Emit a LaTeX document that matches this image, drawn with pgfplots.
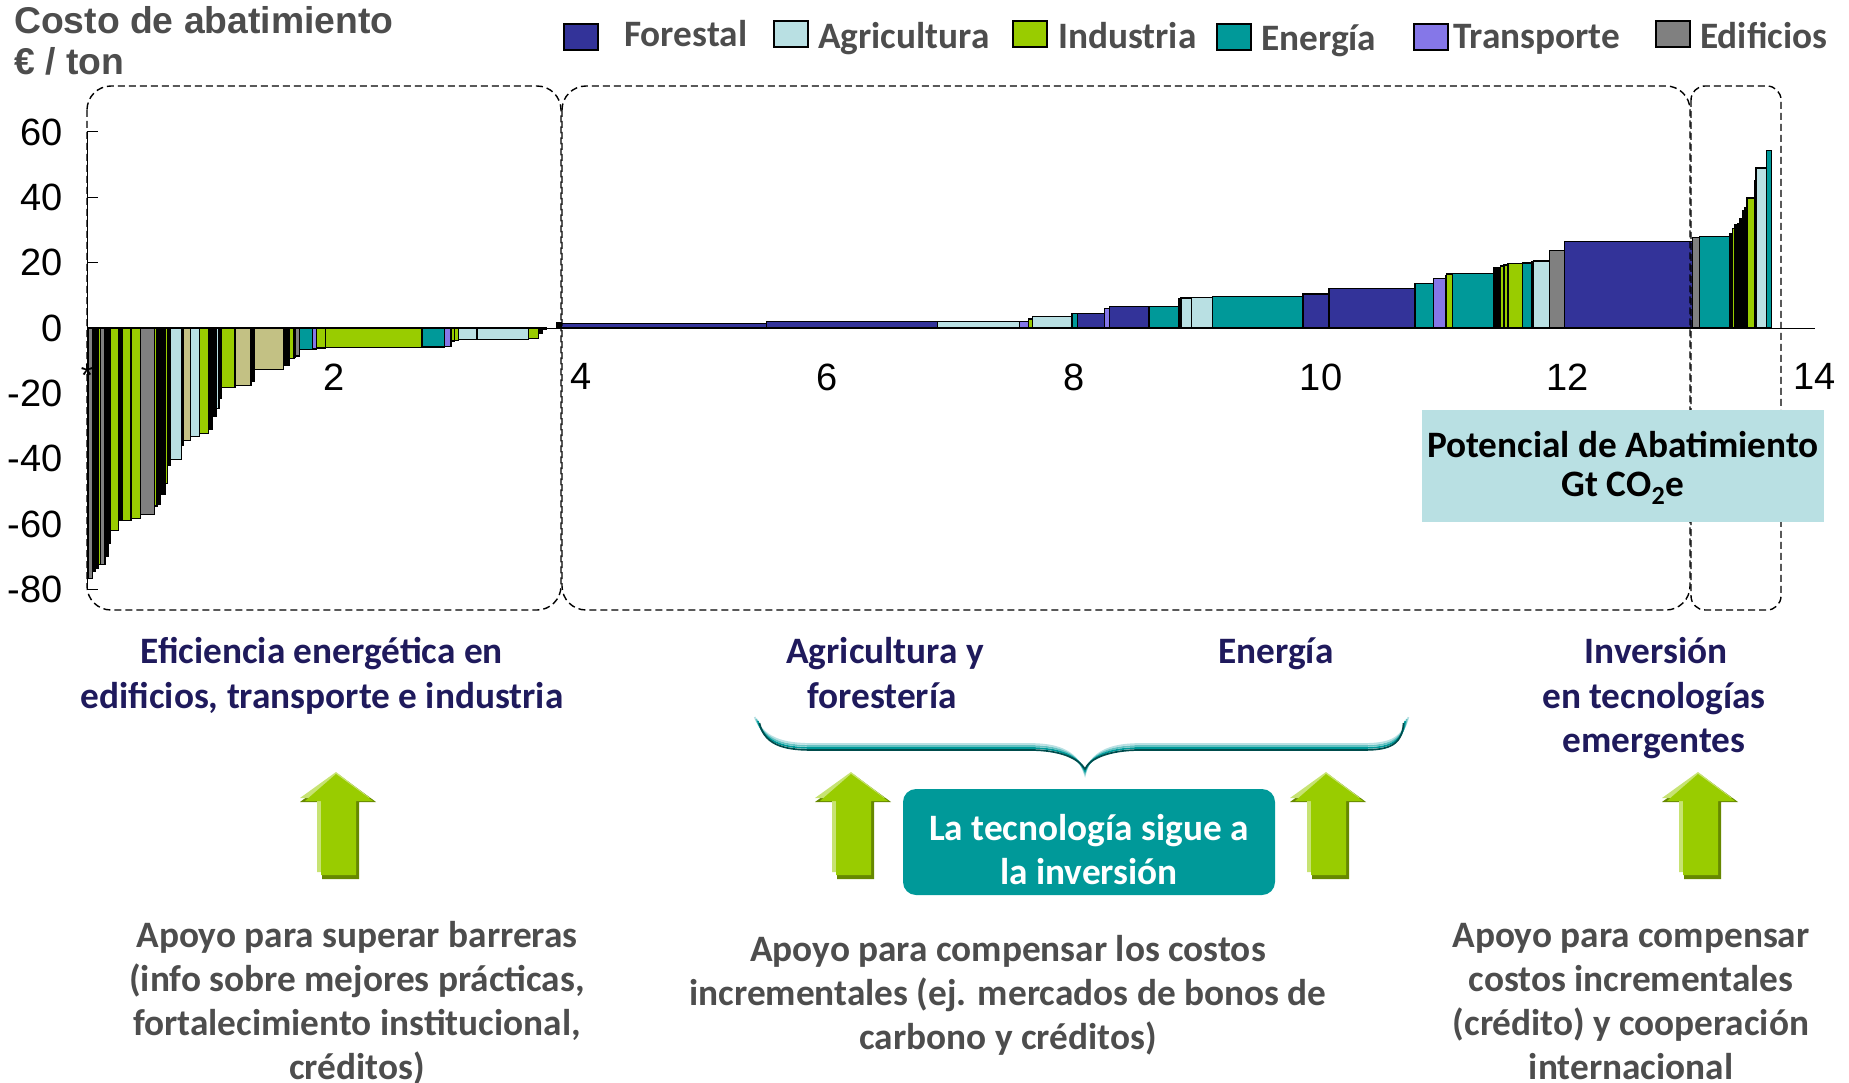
\documentclass[border=0pt]{standalone}
\usepackage{fontspec}
\usepackage{pgfplots}
\pgfplotsset{compat=1.18}
\setmainfont{Carlito}
\newfontfamily\arialf{Liberation Sans}
\definecolor{forest}{HTML}{333399}
\definecolor{agri}{HTML}{B9E0E3}
\definecolor{indu}{HTML}{99CC00}
\definecolor{ener}{HTML}{009999}
\definecolor{trans}{HTML}{8577E8}
\definecolor{edif}{HTML}{808080}
\definecolor{khak}{HTML}{C3C184}
\definecolor{navyt}{HTML}{1F1A5C}
\definecolor{grayt}{HTML}{4D4D4D}
\definecolor{arrowdark}{HTML}{668800}
\newcommand{\B}[4]{\addplot[fill=#1,draw=black,line width=1.2pt] coordinates {(#2,0)(#2,#4)(#3,#4)(#3,0)} \closedcycle;}
\newcommand{\fs}{\fontsize{37.3}{44}\selectfont\bfseries}
\newcommand{\arrowup}[1]{%
 \fill[arrowdark] (#1-36,802)--(#1+2,774)--(#1+40,802)--(#1+23,802)--(#1+23,879)--(#1-14,879)--(#1-14,802)--cycle;
 \fill[indu!55!white] (#1-36,798)--(#1,772)--(#1+34,798)--(#1+17,798)--(#1+17,872)--(#1-19,872)--(#1-19,798)--cycle;
 \fill[indu] (#1-31,801)--(#1,774)--(#1+37,801)--(#1+20,801)--(#1+20,875)--(#1-15,875)--(#1-15,801)--cycle;}
\begin{document}
\begin{tikzpicture}
\begin{axis}[at={(87pt,-328pt)},anchor=origin,x=123.4pt,y=3.267pt,
 xmin=0,xmax=14,ymin=-80,ymax=60,
 axis x line=middle,axis y line=left,axis line style={-,line width=1pt,black},
 clip=false,
 xtick={2,4,...,14},xticklabels={2,4,6,8,10,12,14},
 ytick={-80,-60,...,60},yticklabels={-80,-60,-40,-20,0,20,40,60},
 tick style={black,line width=1pt},tick align=inside,
 major tick length=11pt,
 xtick style={draw=none},
 xticklabel style={font=\arialf\fontsize{38}{38}\selectfont,anchor=north,yshift=-32pt},
 yticklabel style={font=\arialf\fontsize{38}{38}\selectfont,anchor=east,xshift=-21pt},
]
% negative side
\B{edif}{0.008}{0.043}{-76.6}
\B{black}{0.043}{0.066}{-74.6}
\B{black}{0.066}{0.089}{-73.5}
\B{indu}{0.089}{0.108}{-72.5}
\B{edif}{0.108}{0.146}{-72.5}
\B{black}{0.146}{0.170}{-70}
\B{black}{0.170}{0.192}{-66}
\B{indu}{0.192}{0.257}{-62}
\B{black}{0.257}{0.284}{-59}
\B{indu}{0.284}{0.357}{-58.8}
\B{indu}{0.357}{0.432}{-58.4}
\B{edif}{0.432}{0.546}{-57}
\B{indu}{0.546}{0.567}{-54.5}
\B{black}{0.567}{0.597}{-54}
\B{black}{0.597}{0.632}{-51}
\B{indu}{0.632}{0.654}{-47.5}
\B{black}{0.654}{0.678}{-42}
\B{agri}{0.678}{0.767}{-40.2}
\B{black}{0.767}{0.781}{-36}
\B{khak}{0.781}{0.837}{-34.4}
\B{agri}{0.837}{0.913}{-33.3}
\B{indu}{0.913}{0.983}{-32.4}
\B{black}{0.983}{1.015}{-31}
\B{black}{1.015}{1.045}{-27}
\B{agri}{1.045}{1.070}{-24.6}
\B{black}{1.070}{1.091}{-21.5}
\B{indu}{1.091}{1.199}{-18.2}
\B{khak}{1.199}{1.329}{-17.5}
\B{black}{1.329}{1.359}{-16.4}
\B{khak}{1.359}{1.591}{-12.6}
\B{black}{1.591}{1.640}{-11.3}
\B{indu}{1.640}{1.677}{-9.3}
\B{black}{1.677}{1.690}{-9}
\B{edif}{1.690}{1.721}{-8.6}
\B{ener}{1.721}{1.829}{-6.7}
\B{trans}{1.829}{1.858}{-6.4}
\B{indu}{1.858}{1.931}{-6.1}
\B{indu}{1.931}{2.715}{-6}
\B{ener}{2.715}{2.896}{-5.8}
\B{trans}{2.896}{2.950}{-5.6}
\B{indu}{2.950}{2.979}{-4}
\B{indu}{2.979}{3.009}{-3.8}
\B{agri}{3.009}{3.160}{-3.6}
\B{agri}{3.160}{3.579}{-3.5}
\B{indu}{3.579}{3.660}{-3.3}
\B{black}{3.660}{3.693}{-1.7}
\B{black}{3.693}{3.720}{-0.5}
% positive side
\B{black}{3.806}{3.847}{1.8}
\B{forest}{3.847}{5.506}{1.3}
\B{forest}{5.506}{6.893}{2.1}
\B{agri}{6.893}{7.558}{2.1}
\B{trans}{7.558}{7.631}{2.1}
\B{indu}{7.631}{7.663}{2.75}
\B{agri}{7.663}{7.982}{3.4}
\B{ener}{7.982}{8.025}{4.4}
\B{forest}{8.025}{8.244}{4.5}
\B{trans}{8.244}{8.285}{5.9}
\B{forest}{8.285}{8.606}{6.5}
\B{ener}{8.606}{8.849}{6.7}
\B{black}{8.849}{8.865}{9}
\B{agri}{8.865}{8.952}{9.2}
\B{agri}{8.952}{9.119}{9.4}
\B{ener}{9.119}{9.854}{9.6}
\B{forest}{9.854}{10.065}{10.4}
\B{forest}{10.065}{10.762}{12.1}
\B{ener}{10.762}{10.913}{13.7}
\B{trans}{10.913}{11.010}{15.2}
\B{black}{11.010}{11.020}{16}
\B{indu}{11.020}{11.067}{16.5}
\B{ener}{11.067}{11.402}{16.8}
\B{black}{11.402}{11.456}{18.5}
\B{indu}{11.456}{11.483}{19}
\B{indu}{11.483}{11.515}{19.3}
\B{indu}{11.515}{11.634}{19.8}
\B{ener}{11.634}{11.707}{19.9}
\B{black}{11.707}{11.721}{20.2}
\B{agri}{11.721}{11.850}{20.5}
\B{edif}{11.850}{11.974}{23.6}
\B{forest}{11.974}{13.012}{26.5}
\B{edif}{13.012}{13.064}{27.8}
\B{ener}{13.064}{13.312}{28}
\B{black}{13.312}{13.336}{29}
\B{indu}{13.336}{13.355}{30.4}
\B{black}{13.355}{13.379}{31.8}
\B{ener}{13.379}{13.390}{32}
\B{black}{13.390}{13.415}{33.5}
\B{black}{13.415}{13.435}{36}
\B{black}{13.435}{13.452}{36.8}
\B{indu}{13.452}{13.511}{39.8}
\B{black}{13.511}{13.525}{45}
\B{agri}{13.525}{13.611}{49}
\B{ener}{13.611}{13.649}{54.3}
\end{axis}
\begin{scope}[x=1pt,y=-1pt]
% dashed regions
\draw[line width=1.4pt,dash pattern=on 7pt off 4pt,rounded corners=24pt] (87,86) rectangle (561,610);
\draw[line width=1.4pt,dash pattern=on 7pt off 4pt,rounded corners=24pt] (562,86) rectangle (1690,610);
\draw[line width=1.4pt,dash pattern=on 7pt off 4pt,rounded corners=14pt] (1691,86) rectangle (1781,610);
\node[font=\arialf\fontsize{32}{32}\selectfont] at (87,375) {*};
% title
\node[anchor=west,inner sep=0pt,text=grayt,font=\arialf\bfseries\fontsize{37.3}{37}\selectfont] at (14,20) {Costo de abatimiento};
\node[anchor=west,inner sep=0pt,text=grayt,font=\arialf\bfseries\fontsize{37.3}{37}\selectfont] at (14,61) {€ / ton};
% legend
\newcommand{\leg}[6]{\draw[fill=#1,line width=1.4pt] (#2,#3) rectangle ++(34,26);\node[anchor=base west,inner sep=0pt,text=grayt,font=\fs] at (#4,#5) {#6};}
\leg{forest}{564}{24}{624}{47}{Forestal}
\leg{agri}{774}{21}{818}{48.5}{Agricultura}
\leg{indu}{1013}{21}{1058}{48.5}{Industria}
\leg{ener}{1217}{24}{1261}{51}{Energía}
\leg{trans}{1414}{24}{1453}{48.5}{Transporte}
\leg{edif}{1656}{21}{1700}{48.5}{Edificios}
% caption box
\fill[agri] (1422,410) rectangle (1824,522);
\node[anchor=base,inner sep=0pt,font=\fs,text=black] at (1623,457) {Potencial de Abatimiento};
\node[anchor=base,inner sep=0pt,font=\fs,text=black] at (1623,496) {Gt CO$_{\mathbf 2}$e};
% section headings
\begin{scope}[every node/.style={text=navyt,font=\fs,anchor=base,inner sep=0pt}]
\node at (322,663) {Eficiencia energética en};
\node at (322,708) {edificios, transporte e industria};
\node at (885,663) {Agricultura y};
\node at (882,708) {forestería};
\node at (1276,663) {Energía};
\node at (1656,663) {Inversión};
\node at (1654,708) {en tecnologías};
\node at (1654,752) {emergentes};
\end{scope}
% brace
\foreach \c/\d in {agri/-3,ener!60!white/-1,ener/1,ener!50!black/3}{
\draw[\c,line width=1.7pt,yshift=-\d pt] (757+\d*0.8,720) .. controls (765,745) and (790,747) .. (815,747) -- (1030,747) .. controls (1060,747) and (1078,755) .. (1085,772-\d*2) .. controls (1090,755) and (1110,747) .. (1140,747) -- (1360,747) .. controls (1385,747) and (1402,745) .. (1406-\d*0.8,720);}
% arrows
\arrowup{851}
\arrowup{1326}
\arrowup{336}
\arrowup{1698}
% tech box
\fill[ener,rounded corners=13pt] (903,789) rectangle (1275,895);
\node[align=center,text=white,font=\fs] at (1089,850) {La tecnología sigue a\\la inversión};
% support text
\begin{scope}[every node/.style={text=grayt,font=\fs,align=center}]
\node at (357,1003) {Apoyo para superar barreras\\(info sobre mejores prácticas,\\fortalecimiento institucional,\\créditos)};
\node at (1008,995) {Apoyo para compensar los costos\\incrementales (ej. mercados de bonos de\\carbono y créditos)};
\node at (1631,1002) {Apoyo para compensar\\costos incrementales\\(crédito) y cooperación\\internacional};
\end{scope}
\pgfresetboundingbox
\useasboundingbox (0,0) rectangle (1849,1083);
\end{scope}
\end{tikzpicture}
\end{document}
